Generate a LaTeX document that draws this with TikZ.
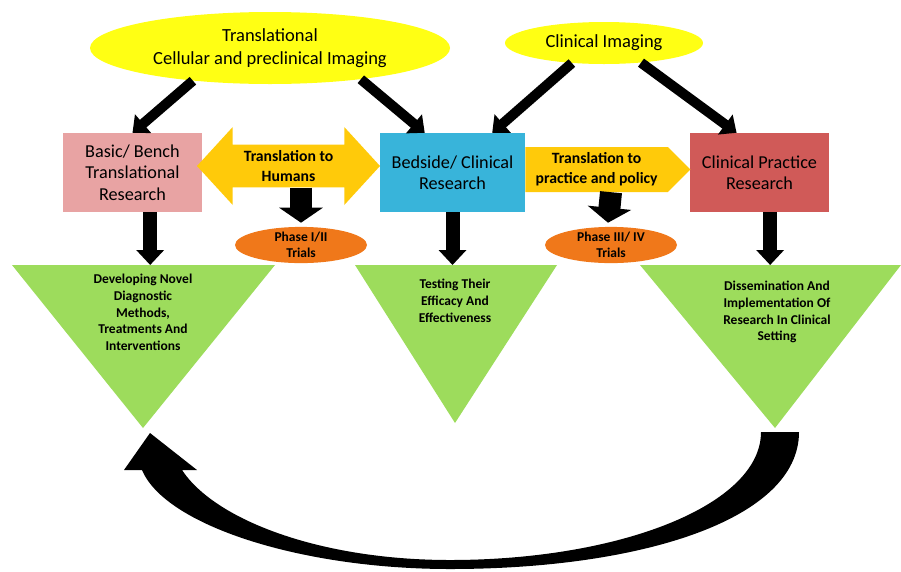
\documentclass[tikz,border=0pt]{standalone}
\usepackage{fontspec}
\setmainfont{Carlito}
\usetikzlibrary{calc, positioning, shapes.geometric, shapes.arrows, arrows.meta}
\definecolor{imgYellow}{HTML}{FFFF14}
\definecolor{benchPink}{HTML}{E8A3A3}
\definecolor{bedsideBlue}{HTML}{38B4DA}
\definecolor{practiceRed}{HTML}{D05A58}
\definecolor{transGold}{HTML}{FFCA0A}
\definecolor{trialOrange}{HTML}{F0781A}
\definecolor{outcomeGreen}{HTML}{9DDC5C}

\begin{document}
\begin{tikzpicture}[x=1pt, y=-1pt,
  imaging/.style={ellipse, fill=imgYellow, inner sep=0pt, align=center,
                  font=\fontsize{18.5}{23}\selectfont},
  stagebox/.style={rectangle, minimum width=139pt, minimum height=79pt,
                   inner sep=2pt, align=center, font=\fontsize{18.2}{21.5}\selectfont},
  trial/.style={ellipse, fill=trialOrange, minimum width=132pt, minimum height=36pt,
                inner sep=0pt, align=center, font=\bfseries\fontsize{13.5}{16}\selectfont},
  outtext/.style={anchor=north, inner sep=0pt, align=center,
                  font=\bfseries\fontsize{13.5}{16.7}\selectfont},
  feedArrow/.style={line width=10pt, -{Triangle[length=14pt, width=24pt]}},
  dropArrow/.style={line width=14pt, -{Triangle[length=15pt, width=27pt]}},
  trialArrow/.style={line width=22pt, -{Triangle[length=15pt, width=43pt]}}
]
\useasboundingbox (0,0) rectangle (901,571);

% imaging sources
\node[imaging, minimum width=360pt, minimum height=72pt] (cell) at (270,48)
  {Translational\\Cellular and preclinical Imaging};
\node[imaging, minimum width=198pt, minimum height=42pt] (clin) at (604,43)
  {Clinical Imaging};

% research stages
\node[stagebox, fill=benchPink] (bench) at (132.5,172.5)
  {Basic/ Bench\\Translational\\Research};
\node[stagebox, fill=bedsideBlue, minimum width=145pt] (bedside) at (452.5,172.5)
  {Bedside/ Clinical\\Research};
\node[stagebox, fill=practiceRed] (practice) at (759.5,172.5)
  {Clinical Practice\\Research};

% translation arrows
\node[double arrow, fill=transGold, minimum height=183pt, minimum width=78pt,
      double arrow head extend=15.5pt, double arrow tip angle=95, inner sep=3pt,
      align=center, font=\bfseries\fontsize{15.7}{20}\selectfont] (humans) at (288.5,166)
  {Translation to\\Humans};
\node[single arrow, fill=transGold, minimum height=165pt, minimum width=45pt,
      single arrow head extend=0pt, single arrow tip angle=90, inner sep=2pt,
      anchor=tail, align=center, font=\bfseries\fontsize{15.7}{20}\selectfont]
  (policy) at (bedside.east |- 0,169.5)
  {Translation to\\practice and policy};

% trials
\node[trial] (phaseA) at (301,245) {Phase I/II\\Trials};
\node[trial] (phaseB) at (611,245) {Phase III/ IV\\Trials};

% outcome triangles
\coordinate (t1l) at (12,265);  \coordinate (t1r) at (275,265); \coordinate (t1b) at (143,428);
\coordinate (t2l) at (355,265); \coordinate (t2r) at (557,265); \coordinate (t2b) at (455,423);
\coordinate (t3l) at (640,265); \coordinate (t3r) at (901,265); \coordinate (t3b) at (775,428);
\fill[outcomeGreen] (t1l) -- (t1r) -- (t1b) -- cycle;
\fill[outcomeGreen] (t2l) -- (t2r) -- (t2b) -- cycle;
\fill[outcomeGreen] (t3l) -- (t3r) -- (t3b) -- cycle;
\node[outtext] (novel) at (143,274)
  {Developing Novel\\Diagnostic\\Methods,\\Treatments And\\Interventions};
\node[outtext] (efficacy) at (455,279)
  {Testing Their\\Efficacy And\\Effectiveness};
\node[outtext] (dissem) at (777,281)
  {Dissemination And\\Implementation Of\\Research In Clinical\\Setting};

% connectors
\draw[feedArrow] (cell.203) -- (bench.north);
\draw[feedArrow] (cell.-19) -- (bedside.125);
\draw[feedArrow] (clin.212) -- (bedside.45);
\draw[feedArrow] (clin.-28) -- (practice.120);
\draw[dropArrow] (bench.-66) -- (bench.-66 |- t1l);
\draw[dropArrow] (bedside.south) -- (bedside.south |- t2l);
\draw[dropArrow] (practice.-75) -- (practice.-75 |- t3l);
\draw[trialArrow] (phaseA.north |- humans.south) -- ($(phaseA.north)+(0,-4)$);
\draw[trialArrow] (phaseB.north |- policy.south) -- ($(phaseB.north)+(-3,-4)$);

% feedback loop
\fill (761,432) -- (799,432) .. controls (799,520) and (640,569) .. (450,569)
  .. controls (300,569) and (165,525) .. (142,470) -- (124,470) -- (150,433)
  -- (197,470) -- (182,470) .. controls (215,520) and (320,560) .. (450,560)
  .. controls (620,560) and (761,505) .. (761,432) -- cycle;
\end{tikzpicture}
\end{document}
